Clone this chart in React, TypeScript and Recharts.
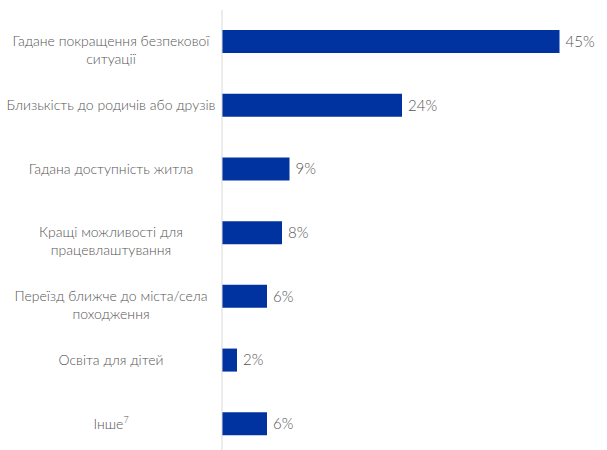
import React from 'react';
import { BarChart, Bar, XAxis, YAxis, LabelList } from 'recharts';

const categories = [
  'Гадане покращення безпекової\nситуації',
  'Близькість до родичів або друзів',
  'Гадана доступність житла',
  'Кращі можливості для\nпрацевлаштування',
  'Переїзд ближче до міста/села\nпоходження',
  'Освіта для дітей',
  'Інше^7',
];
const values = [45, 24, 9, 8, 6, 2, 6];

const data = categories.map((name, i) => ({ name, value: values[i] }));

const FONT = 'Lato, "DejaVu Sans", sans-serif';
const TEXT_COLOR = '#555555';
const LABEL_CENTER = 111;

const Tick = (props: any) => {
  const { y, payload } = props;
  const raw: string = payload.value;
  const lines = raw.split('\n');
  const renderLine = (line: string) => {
    const parts = line.split('^');
    if (parts.length > 1) {
      return (
        <>
          {parts[0]}
          <tspan fontSize={9} dy={-6}>{parts[1]}</tspan>
        </>
      );
    }
    return line;
  };
  return (
    <g>
      {lines.map((line, i) => (
        <text
          key={i}
          x={LABEL_CENTER}
          y={y + (lines.length > 1 ? -1 + i * 18.5 : 0)}
          dy="0.35em"
          textAnchor="middle"
          fill={TEXT_COLOR}
          fontSize={14}
          fontFamily={FONT}
          fontWeight={300}
        >
          {renderLine(line)}
        </text>
      ))}
    </g>
  );
};

export default function App() {
  return (
    <div
      style={{
        position: 'absolute',
        left: 0,
        top: 0,
        width: 607,
        height: 450,
        overflow: 'hidden',
        background: '#fff',
      }}
    >
      <BarChart
        width={607}
        height={456}
        data={data}
        layout="vertical"
        margin={{ top: 10, right: 10, bottom: 0, left: 0 }}
        barSize={23}
      >
        <XAxis type="number" domain={[0, 50]} hide />
        <YAxis
          type="category"
          dataKey="name"
          width={222}
          axisLine={{ stroke: '#d9d9d9', strokeWidth: 1 }}
          tickLine={false}
          interval={0}
          tick={(p: any) => <Tick {...p} />}
        />
        <Bar dataKey="value" fill="#0033a0" isAnimationActive={false}>
          <LabelList
            dataKey="value"
            position="right"
            offset={6}
            formatter={(v: any) => `${v}%`}
            fill={TEXT_COLOR}
            fontSize={15}
            fontFamily={FONT}
            fontWeight={300}
          />
        </Bar>
      </BarChart>
    </div>
  );
}
